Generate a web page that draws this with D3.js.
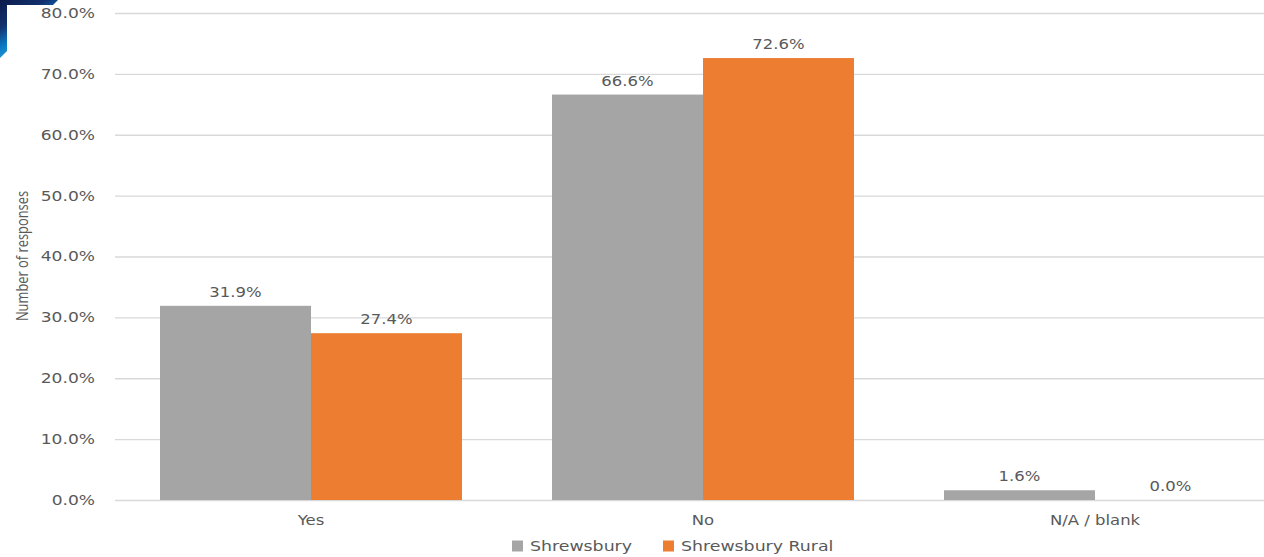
<!DOCTYPE html>
<html><head><meta charset="utf-8">
<script src="https://cdn.jsdelivr.net/npm/d3@7"></script>
<style>html,body{margin:0;padding:0;background:#fff;overflow:hidden}</style>
</head><body>
<script>
const categories = ["Yes", "No", "N/A / blank"];
const seriesNames = ["Shrewsbury", "Shrewsbury Rural"];
const shrewsbury = [31.9, 66.6, 1.6];
const shrewsburyRural = [27.4, 72.6, 0.0];
const yTicks = [0, 10, 20, 30, 40, 50, 60, 70, 80];
const colors = ["#A5A5A5", "#ED7D31"];

const W = 1264, H = 557;
const svg = d3.select("body").append("svg").attr("width", W).attr("height", H);
const defs = svg.append("defs");
const g1 = defs.append("linearGradient").attr("id","corner").attr("x1","0").attr("y1","0").attr("x2","0.6").attr("y2","1");
g1.append("stop").attr("offset","0").attr("stop-color","#0b1a4a");
g1.append("stop").attr("offset","0.35").attr("stop-color","#12306e");
g1.append("stop").attr("offset","0.6").attr("stop-color","#0a78c2");
g1.append("stop").attr("offset","0.85").attr("stop-color","#2fa3dc");
g1.append("stop").attr("offset","1").attr("stop-color","#ffffff");
svg.append("path").attr("d","M0,0 L58,0 L0,58 Z").attr("fill","url(#corner)");
svg.append("rect").attr("x",7).attr("y",5).attr("width",W).attr("height",H).attr("fill","#fff");

const x0 = d3.scaleBand().domain(categories).range([115, 1291]).paddingInner(0).paddingOuter(0);
const x1 = d3.scaleBand().domain(seriesNames).range([45, x0.bandwidth()-45]);
const y = d3.scaleLinear().domain([0, 80]).range([500, 13]);
const SX = 1.22;
const font = "'DejaVu Sans', Verdana, sans-serif";
const txtCol = "#595959";

// gridlines + tick labels via axis
const yAxis = d3.axisLeft(y).tickValues(yTicks).tickSize(-(1291-115)).tickFormat(d => d3.format(".1f")(d) + "%");
const ya = svg.append("g").attr("transform","translate(115,0)").call(yAxis);
ya.select(".domain").remove();
ya.selectAll(".tick line").attr("stroke","#D9D9D9").attr("stroke-width",1.3);
ya.selectAll(".tick text").attr("x",null).attr("dy",null).attr("text-anchor","end")
  .attr("dominant-baseline","central")
  .attr("transform","translate(-20,0) scale(" + SX + ",1)")
  .style("font-family", font).style("font-size","14px").attr("fill", txtCol);

const data = categories.map((c,i) => ({cat:c, vals:[shrewsbury[i], shrewsburyRural[i]]}));
const groups = svg.append("g").selectAll("g").data(data).join("g")
  .attr("transform", d => `translate(${x0(d.cat)},0)`);
groups.selectAll("rect").data(d => d.vals.map((v,j)=>({v, s:seriesNames[j], j})))
  .join("rect")
  .attr("x", d => x1(d.s)).attr("width", x1.bandwidth())
  .attr("y", d => y(d.v)).attr("height", d => y(0)-y(d.v))
  .attr("fill", d => colors[d.j]);
groups.selectAll("text.lbl").data(d => d.vals.map((v,j)=>({v, s:seriesNames[j], j})))
  .join("text").attr("class","lbl")
  .attr("text-anchor","middle")
  .attr("transform", d => `translate(${x1(d.s)+x1.bandwidth()/2},${y(d.v)-9}) scale(${SX},1)`)
  .style("font-family", font).style("font-size","13.5px").attr("fill", txtCol)
  .text(d => d3.format(".1f")(d.v) + "%");

// category axis labels
const xAxis = d3.axisBottom(x0).tickSize(0).tickPadding(0);
const xa = svg.append("g").attr("transform","translate(0,500)").call(xAxis);
xa.select(".domain").remove();
xa.selectAll(".tick text").attr("y",null).attr("dy",null)
  .attr("transform","translate(0,25) scale(" + SX + ",1)")
  .style("font-family", font).style("font-size","13.5px").attr("fill", txtCol);

// y axis title
svg.append("text")
  .attr("transform","translate(28,256) rotate(-90) scale(0.78,1)")
  .attr("text-anchor","middle")
  .style("font-family","'Open Sans', sans-serif").style("font-size","16.5px").attr("fill", txtCol)
  .text("Number of responses");

// cut-off bottom title
svg.append("text")
  .attr("transform","translate(120,569) scale(0.78,1)")
  .style("font-family","'Open Sans', sans-serif").style("font-size","16.5px").attr("fill", txtCol)
  .text("Number of responses");

// legend
const legX = [512, 663];
const leg = svg.append("g").selectAll("g").data(seriesNames).join("g")
  .attr("transform", (d,i) => `translate(${legX[i]},546)`);
leg.append("rect").attr("x",0).attr("y",-5.5).attr("width",11).attr("height",11).attr("fill",(d,i)=>colors[i]);
leg.append("text").attr("dominant-baseline","central")
  .attr("transform", `translate(18,0) scale(1.24,1)`)
  .style("font-family", font).style("font-size","14px").attr("fill", txtCol)
  .text(d => d);
</script>
</body></html>
